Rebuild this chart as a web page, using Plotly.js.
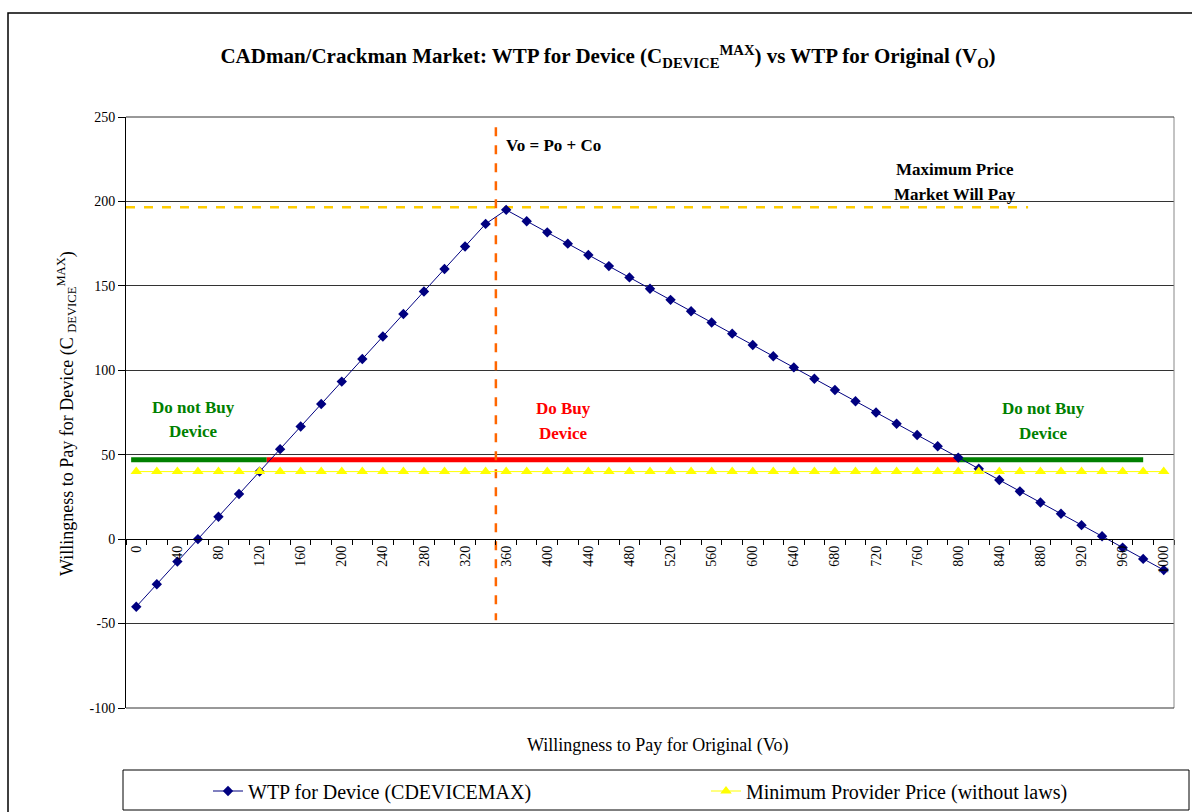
<!DOCTYPE html>
<html>
<head>
<meta charset="utf-8">
<script src="https://cdn.plot.ly/plotly-3.0.1.min.js"></script>
<style>html,body{margin:0;padding:0;background:#fff;}#chart{width:1192px;height:812px;}</style>
</head>
<body>
<div id="chart"></div>
<script>
// Willingness to pay for original (Vo), categories
const wtpOriginal = [0,20,40,60,80,100,120,140,160,180,200,220,240,260,280,300,320,340,360,380,400,420,440,460,480,500,520,540,560,580,600,620,640,660,680,700,720,740,760,780,800,820,840,860,880,900,920,940,960,980,1000];
// WTP for Device (CDEVICEMAX)
const wtpDevice = [-40,-26.7,-13.3,0,13.3,26.7,40,53.3,66.7,80,93.3,106.7,120,133.3,146.7,160,173.3,186.7,195,188.3,181.7,175,168.3,161.7,155,148.3,141.7,135,128.3,121.7,115,108.3,101.7,95,88.3,81.7,75,68.3,61.7,55,48.3,41.7,35,28.3,21.7,15,8.3,1.7,-5,-11.7,-18.3];
// Minimum Provider Price (without laws)
const minProviderPrice = [40,40,40,40,40,40,40,40,40,40,40,40,40,40,40,40,40,40,40,40,40,40,40,40,40,40,40,40,40,40,40,40,40,40,40,40,40,40,40,40,40,40,40,40,40,40,40,40,40,40,40];
// tick labels
const xTickLabels = [0,40,80,120,160,200,240,280,320,360,400,440,480,520,560,600,640,680,720,760,800,840,880,920,960,1000];
const yTickLabels = [-100,-50,0,50,100,150,200,250];
// Reference lines
const maxPriceX = [-10, 868], maxPriceY = [196.5, 196.5];
const voX = [350, 350], voY = [244, -48];
const noBuyLeftX = [-5, 127], noBuyRightX = [800, 980], buyX = [127, 800], buyBandY = [47, 47];

const serif = "Liberation Serif, Times New Roman, serif";
const traces = [
  {x: maxPriceX, y: maxPriceY, mode:'lines', line:{color:'#FFCC00', width:2.5, dash:'dash'}, showlegend:false, hoverinfo:'skip'},
  {x: noBuyLeftX, y: buyBandY, mode:'lines', line:{color:'#008000', width:5}, showlegend:false, hoverinfo:'skip'},
  {x: buyX, y: buyBandY, mode:'lines', line:{color:'#FF0000', width:5}, showlegend:false, hoverinfo:'skip'},
  {x: noBuyRightX, y: buyBandY, mode:'lines', line:{color:'#008000', width:5}, showlegend:false, hoverinfo:'skip'},
  {x: voX, y: voY, mode:'lines', line:{color:'#FF6600', width:2.5, dash:'dash'}, showlegend:false, hoverinfo:'skip'},
  {x: wtpOriginal, y: wtpDevice, name:'WTP for Device (CDEVICEMAX)', mode:'lines+markers', legend:'legend',
   line:{color:'#000080', width:1}, marker:{symbol:'diamond', size:8, color:'#000080'}},
  {x: wtpOriginal, y: minProviderPrice, name:'Minimum Provider Price (without laws)', mode:'lines+markers', legend:'legend2',
   line:{color:'#FFFF00', width:1}, marker:{symbol:'triangle-up', size:10, color:'#FFFF00'}}
];
const pxW = 1048, pxH = 591, L = 126, T = 117;
const px = p => (p - L) / pxW;
const py = q => (T + pxH - q) / pxH;
const annFont = (c) => ({family: serif, size: 17, color: c});
const ann = (text, x, y, color, extra) => Object.assign({text: text, xref: 'paper', yref: 'paper', x: px(x), y: py(y),
  xanchor: 'center', yanchor: 'middle', showarrow: false, font: annFont(color)}, extra || {});
const legendBase = {orientation: 'h', xref: 'container', xanchor: 'left', yref: 'container', y: 1 - 791/812, yanchor: 'middle',
  font: {family: serif, size: 20, color: '#000'}, bgcolor: 'rgba(0,0,0,0)'};
const layout = {
  width: 1192, height: 812,
  margin: {l: 126, r: 18, t: 117, b: 104, autoexpand: false},
  paper_bgcolor: '#fff', plot_bgcolor: '#fff',
  font: {family: serif, color: '#000'},
  title: {text: '<b>CADman/Crackman Market: WTP for Device (C<sub>DEVICE</sub><sup>MAX</sup>) vs WTP for Original (V<sub>O</sub>)</b>',
          font: {family: serif, size: 21, color: '#000'}, x: 608/1192, xanchor: 'center', y: 1 - 56/812, yanchor: 'middle'},
  xaxis: {type: 'linear', range: [-10, 1010], anchor: 'free', position: 100/350,
          tickmode: 'array', tickvals: xTickLabels, ticktext: xTickLabels.map(String), tickangle: -90,
          ticks: '', showgrid: false, zeroline: false, showline: true, linecolor: '#000', linewidth: 1,
          tickfont: {family: serif, size: 14, color: '#000'},
          minor: {ticks: 'outside', tick0: -10, dtick: 20, ticklen: 5, tickcolor: '#000', tickwidth: 1, showgrid: false}},
  yaxis: {range: [-100, 250], tickmode: 'array', tickvals: yTickLabels, ticktext: yTickLabels.map(String),
          ticks: 'outside', ticklen: 7, tickcolor: '#000',
          showline: true, linecolor: '#000', linewidth: 1, showgrid: true, gridcolor: '#333', gridwidth: 1,
          zeroline: false, tickfont: {family: serif, size: 14, color: '#000'}},
  showlegend: true,
  legend: Object.assign({}, legendBase, {x: 208/1192}),
  legend2: Object.assign({}, legendBase, {x: 706/1192}),
  shapes: [
    {type: 'line', xref: 'paper', yref: 'paper', x0: 1, x1: 1, y0: 0, y1: 1, line: {color: '#888', width: 1}},
    {type: 'line', xref: 'paper', yref: 'paper', x0: 0, x1: 1, y0: 1, y1: 1, line: {color: '#333', width: 1}},
    {type: 'line', xref: 'paper', yref: 'paper', x0: 0, x1: 1, y0: 0, y1: 0, line: {color: '#333', width: 1}},
    {type: 'rect', xref: 'paper', yref: 'paper', x0: px(123), x1: px(1189), y0: py(810), y1: py(770), line: {color: '#000', width: 1}},
    {type: 'rect', xref: 'paper', yref: 'paper', x0: px(8), x1: px(1300), y0: py(900), y1: py(13), line: {color: '#000', width: 1.5}}
  ],
  annotations: [
    ann('Willingness to Pay for Device (C <sub>DEVICE</sub><sup>MAX</sup>)', 66, 414, '#000', {textangle: -90, font: {family: serif, size: 18, color: '#000'}}),
    ann('Willingness to Pay for Original (Vo)', 657, 746, '#000', {font: {family: serif, size: 18, color: '#000'}}),
    ann('<b>Vo = Po + Co</b>', 504, 145, '#000', {xanchor: 'left'}),
    ann('<b>Maximum Price</b>', 955, 169, '#000'),
    ann('<b>Market Will Pay</b>', 955, 194, '#000'),
    ann('<b>Do not Buy</b>', 193, 407, '#008000'),
    ann('<b>Device</b>', 193, 432, '#008000'),
    ann('<b>Do Buy</b>', 563, 408, '#FF0000'),
    ann('<b>Device</b>', 563, 433, '#FF0000'),
    ann('<b>Do not Buy</b>', 1043, 408, '#008000'),
    ann('<b>Device</b>', 1043, 433, '#008000')
  ]
};
Plotly.newPlot('chart', traces, layout, {displayModeBar: false, staticPlot: true});
</script>
</body>
</html>
